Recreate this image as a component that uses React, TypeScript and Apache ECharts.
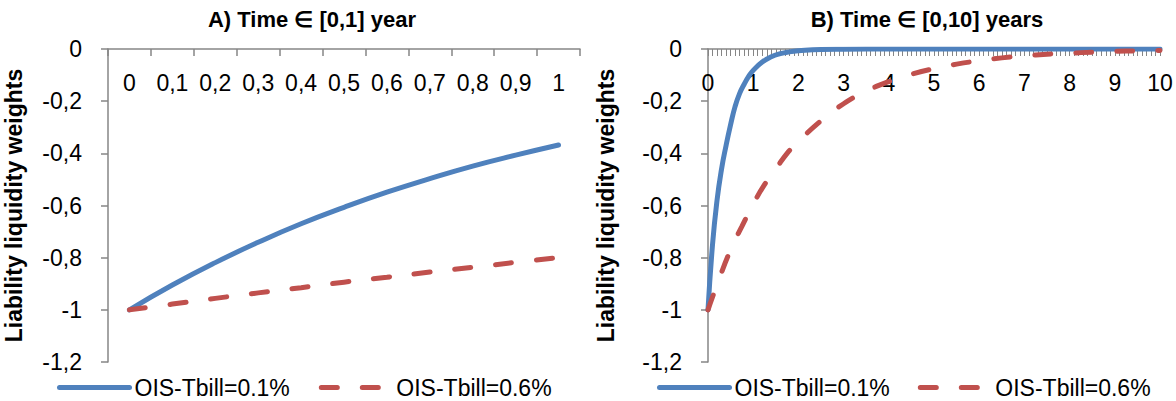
import React, { useEffect, useRef } from "react";
import * as echarts from "echarts";

const titleA = "A) Time ∈ [0,1] year";
const titleB = "B) Time ∈ [0,10] years";
const yName = "Liability liquidity weights";
const seriesNames = ["OIS-Tbill=0.1%", "OIS-Tbill=0.6%"];

const catsA = ["0", "0,1", "0,2", "0,3", "0,4", "0,5", "0,6", "0,7", "0,8", "0,9", "1"];
const blueA = [-1, -0.905, -0.819, -0.741, -0.67, -0.607, -0.549, -0.497, -0.449, -0.407, -0.368];
const redA = [-1, -0.978, -0.956, -0.935, -0.915, -0.894, -0.875, -0.855, -0.837, -0.818, -0.8];

const blueBt = [0, 0.1, 0.2, 0.3, 0.4, 0.5, 0.6, 0.7, 0.8, 0.9, 1, 1.2, 1.4, 1.6, 1.8, 2, 2.5, 3, 4, 5, 6, 7, 8, 9, 10];
const blueBv = [-1, -0.75, -0.58, -0.46, -0.37, -0.29, -0.22, -0.17, -0.135, -0.105, -0.082, -0.05, -0.03, -0.018, -0.011, -0.007, -0.002, -0.001, 0, 0, 0, 0, 0, 0, 0];
const redBt = [0, 0.25, 0.5, 0.75, 1, 1.25, 1.5, 1.75, 2, 2.5, 3, 3.5, 4, 4.5, 5, 5.5, 6, 6.5, 7, 7.5, 8, 8.5, 9, 9.5, 10];
const redBv = [-1, -0.88, -0.77, -0.68, -0.595, -0.52, -0.46, -0.4, -0.355, -0.275, -0.21, -0.162, -0.125, -0.097, -0.075, -0.058, -0.045, -0.034, -0.026, -0.02, -0.016, -0.012, -0.009, -0.007, -0.0055];

const FONT = '"Liberation Sans", Arial, sans-serif';
const BLUE = "#4F81BD";
const RED = "#C0504D";
const AXIS = "#868686";

const yFmt = (v: number) => {
  const r = Math.round(v * 10) / 10;
  return String(r).replace(".", ",");
};

export default function App() {
  const ref = useRef<HTMLDivElement>(null);
  useEffect(() => {
    if (!ref.current) return;
    const chart = echarts.init(ref.current, undefined, { renderer: "svg" });
    const yAxisBase = (nameGap: number, gridIndex: number) => ({
      type: "value",
      gridIndex,
      min: -1.2,
      max: 0,
      interval: 0.2,
      name: yName,
      nameLocation: "middle",
      nameRotate: 90,
      nameGap,
      nameTextStyle: { fontFamily: FONT, fontSize: 23, fontWeight: "bold", color: "#000" },
      axisLine: { show: true, lineStyle: { color: AXIS, width: 1.5 } },
      axisTick: { show: true, length: 7, lineStyle: { color: AXIS, width: 1.5 } },
      axisLabel: { fontFamily: FONT, fontSize: 23, color: "#000", margin: 26, formatter: yFmt },
      splitLine: { show: false },
    });
    const lineSeries = (name: string, color: string, dashed: boolean, xi: number, data: any) => ({
      type: "line",
      name,
      xAxisIndex: xi,
      yAxisIndex: xi,
      data,
      smooth: true,
      symbol: "none",
      showSymbol: false,
      lineStyle: {
        color,
        width: 5,
        type: dashed ? [16, 25] : "solid",
        cap: "round",
      },
      itemStyle: { color },
    });
    const legendBase = (left: number, gap: number) => ({
      left,
      top: 371,
      itemWidth: 70,
      itemHeight: 24,
      itemGap: gap,
      selectedMode: false,
      data: seriesNames,
      itemStyle: { opacity: 0, borderWidth: 0 },
      lineStyle: { width: 5, cap: "round" },
      textStyle: { fontFamily: FONT, fontSize: 23, color: "#000" },
    });
    chart.setOption({
      animation: false,
      grid: [
        { left: 108, right: 596, top: 49, bottom: 39, outerBoundsMode: "none" },
        { left: 708, right: 16, top: 49, bottom: 39, outerBoundsMode: "none" },
      ],
      xAxis: [
        {
          type: "category",
          gridIndex: 0,
          data: catsA,
          boundaryGap: true,
          position: "top",
          axisLine: { show: true, lineStyle: { color: AXIS, width: 1.5 } },
          axisTick: { show: true, inside: true, length: 7, lineStyle: { color: AXIS, width: 1.5 } },
          axisLabel: { inside: true, margin: 22, fontFamily: FONT, fontSize: 23, color: "#000" },
          splitLine: { show: false },
        },
        {
          type: "value",
          gridIndex: 1,
          min: 0,
          max: 10,
          interval: 1,
          position: "top",
          axisLine: { show: true, onZero: false, lineStyle: { color: AXIS, width: 1.5 } },
          axisTick: { show: true, inside: true, length: 7, lineStyle: { color: AXIS, width: 1 } },
          minorTick: { show: true, splitNumber: 10, length: 7, lineStyle: { color: AXIS, width: 1 } },
          axisLabel: { inside: true, margin: 22, fontFamily: FONT, fontSize: 23, color: "#000" },
          splitLine: { show: false },
        },
      ],
      yAxis: [yAxisBase(83, 0), yAxisBase(91, 1)],
      legend: [legendBase(52, 29), legendBase(652, 28)],
      graphic: [
        {
          type: "text",
          x: 312,
          y: 19,
          style: { text: titleA, fontFamily: FONT, fontSize: 22, fontWeight: "bold", fill: "#000", align: "center", verticalAlign: "middle" },
        },
        {
          type: "text",
          x: 927,
          y: 19,
          style: { text: titleB, fontFamily: FONT, fontSize: 22, fontWeight: "bold", fill: "#000", align: "center", verticalAlign: "middle" },
        },
      ],
      series: [
        lineSeries(seriesNames[0], BLUE, false, 0, blueA),
        lineSeries(seriesNames[1], RED, true, 0, redA),
        lineSeries(seriesNames[0], BLUE, false, 1, blueBt.map((t, i) => [t, blueBv[i]])),
        lineSeries(seriesNames[1], RED, true, 1, redBt.map((t, i) => [t, redBv[i]])),
      ],
    });
    return () => chart.dispose();
  }, []);
  return (
    <div
      ref={ref}
      style={{ position: "fixed", left: 0, top: 0, width: 1176, height: 401, background: "#fff" }}
    />
  );
}
